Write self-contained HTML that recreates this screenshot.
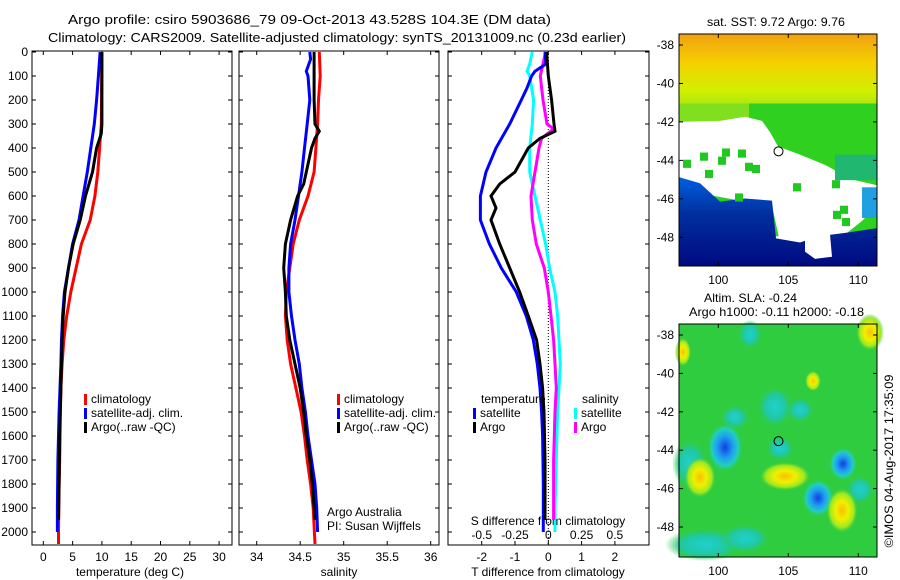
<!DOCTYPE html>
<html><head><meta charset="utf-8"><style>
body{margin:0;background:#fff;}
svg{display:block;font-family:"Liberation Sans",sans-serif;font-size:12px;}
</style></head><body>
<svg id="c" width="900" height="580" viewBox="0 0 900 580">
<defs>
<linearGradient id="sstTop" x1="0" y1="0" x2="0" y2="1">
<stop offset="0" stop-color="#f0a010"/><stop offset="0.35" stop-color="#f5d000"/><stop offset="0.7" stop-color="#d0f000"/><stop offset="1" stop-color="#90e020"/></linearGradient>
<linearGradient id="sstBlue" x1="0" y1="0" x2="0" y2="1">
<stop offset="0" stop-color="#0060e0"/><stop offset="0.4" stop-color="#0030a0"/><stop offset="1" stop-color="#000a80"/></linearGradient>
<radialGradient id="bBlue"><stop offset="0" stop-color="#1040e0"/><stop offset="0.45" stop-color="#20a0f0"/><stop offset="0.75" stop-color="#20d0c0"/><stop offset="1" stop-color="#30cc40" stop-opacity="0"/></radialGradient>
<radialGradient id="bYel"><stop offset="0" stop-color="#f8c000"/><stop offset="0.4" stop-color="#f0f000"/><stop offset="0.75" stop-color="#a0e820"/><stop offset="1" stop-color="#30cc40" stop-opacity="0"/></radialGradient>
<radialGradient id="bCyan"><stop offset="0" stop-color="#20d0d0"/><stop offset="0.6" stop-color="#20c8a0"/><stop offset="1" stop-color="#30cc40" stop-opacity="0"/></radialGradient>
</defs>
<text x="68" y="24" textLength="483" lengthAdjust="spacingAndGlyphs" font-size="13">Argo profile: csiro 5903686_79 09-Oct-2013 43.528S 104.3E (DM data)</text>
<text x="48" y="42" textLength="578" lengthAdjust="spacingAndGlyphs" font-size="13">Climatology: CARS2009. Satellite-adjusted climatology: synTS_20131009.nc (0.23d earlier)</text>
<g id="g"></g>
</svg>
<script>
const tDepth=[0,300,400,500,600,700,800,900,1000,1100,1200,1300,1400,1500,1700,1800,2000,2050];
const tClim=[10,9.9,9.6,9.3,8.8,8.0,6.5,5.6,4.7,4.0,3.5,3.2,3.0,2.9,2.8,2.7,2.6,2.6];
const tSatDepth=[0,100,200,300,400,500,600,700,800,900,1000,1100,1200,1300,1500,1700,1900,2000];
const tSat=[9.7,9.4,9.1,8.7,8.1,7.5,6.8,6.1,5.0,4.3,3.6,3.3,3.1,3.0,2.7,2.5,2.4,2.4];
const tArgoDepth=[0,300,340,400,500,600,700,800,900,1000,1100,1200,1300,1400,1600,1800,1950];
const tArgo=[10,10,9.9,9.1,8.4,7.2,6.3,5.1,4.3,3.7,3.4,3.2,3.1,3.0,2.8,2.7,2.6];

const sClimDepth=[0,100,200,300,400,500,600,700,800,900,1000,1100,1200,1300,1400,1500,1600,1700,1800,1900,2050];
const sClim=[34.72,34.73,34.71,34.70,34.68,34.66,34.59,34.49,34.42,34.38,34.34,34.33,34.35,34.39,34.45,34.51,34.55,34.58,34.62,34.65,34.67];
const sSatDepth=[0,30,80,100,200,300,400,500,600,700,800,900,1000,1100,1200,1300,1400,1500,1600,1700,1800,1900,2000];
const sSat=[34.61,34.62,34.57,34.59,34.61,34.58,34.55,34.52,34.48,34.44,34.39,34.37,34.37,34.40,34.44,34.49,34.52,34.56,34.59,34.63,34.67,34.69,34.70];
const sArgoDepth=[0,200,300,330,360,400,500,550,600,700,800,900,1000,1100,1200,1300,1400,1500,1600,1700,1800,1950];
const sArgo=[34.66,34.66,34.67,34.72,34.67,34.63,34.57,34.54,34.47,34.39,34.33,34.31,34.33,34.34,34.38,34.44,34.50,34.54,34.57,34.61,34.64,34.67];

const dtSatDepth=[0,50,80,100,150,200,300,400,500,600,700,800,900,1000,1100,1200,1300,1400,1500,1600,1800,2000];
const dtSat=[-0.1,-0.07,-0.4,-0.5,-0.64,-0.81,-1.16,-1.57,-1.87,-2.04,-2.04,-1.77,-1.41,-0.96,-0.66,-0.45,-0.33,-0.25,-0.2,-0.17,-0.15,-0.15];
const dtArgoDepth=[0,100,200,300,330,360,400,500,550,600,650,700,800,900,1000,1100,1200,1300,1400,1500,1700,1950];
const dtArgo=[-0.05,0,0.1,0.17,0.2,-0.25,-0.6,-1.0,-1.46,-1.72,-1.57,-1.72,-1.46,-1.16,-0.86,-0.6,-0.35,-0.25,-0.17,-0.13,-0.1,-0.1];
const dsSatDepth=[0,50,80,100,200,300,400,500,550,600,700,800,900,1000,1100,1200,1300,1400,1500,1700,1900,2000];
const dsSat=[-0.12,-0.14,-0.16,-0.14,-0.11,-0.12,-0.14,-0.14,-0.12,-0.1,-0.06,-0.02,0.01,0.05,0.07,0.08,0.09,0.08,0.07,0.06,0.05,0.05];
const dsArgoDepth=[0,100,200,300,320,360,400,500,600,700,800,900,1000,1100,1200,1300,1400,1500,1700,1950];
const dsArgo=[-0.02,-0.06,-0.04,-0.01,0.04,-0.05,-0.07,-0.1,-0.13,-0.12,-0.09,-0.03,0,0.02,0.04,0.05,0.06,0.05,0.04,0.04];

const depthTicks=[0,100,200,300,400,500,600,700,800,900,1000,1100,1200,1300,1400,1500,1600,1700,1800,1900,2000];
const tTicks=[0,5,10,15,20,25,30];
const sTicks=[34,34.5,35,35.5,36];
const sTickLabels=["34","34.5","35","35.5","36"];
const dtTicks=[-2,-1,0,1,2];
const dsTicks=[-0.5,-0.25,0,0.25,0.5];
const dsTickLabels=["-0.5","-0.25","0","0.25","0.5"];
const latTicks=[-38,-40,-42,-44,-46,-48];
const lonTicks=[100,105,110];

const NS="http://www.w3.org/2000/svg";
const G=document.getElementById('g');
function el(tag,at,txt,parent){const e=document.createElementNS(NS,tag);for(const k in at)e.setAttribute(k,at[k]);if(txt!==undefined)e.textContent=txt;(parent||G).appendChild(e);return e;}

const yD=d=>52+d*0.24;
const xT=t=>43.3+t*5.86;
const xS=s=>256.7+(s-34)*87;
const xDT=t=>548.3+t*33.3;
const xDS=s=>xDT(s*4);

const panels=[[32,232],[239,439],[448,649]];
const PT=51,PB=545;
panels.forEach((p,i)=>{
  const r=el('rect',{x:p[0],y:PT,width:p[1]-p[0],height:PB-PT,fill:'none',stroke:'#000','stroke-width':1});
  
  
  depthTicks.forEach(d=>{
    el('line',{x1:p[0],x2:p[0]+4,y1:yD(d),y2:yD(d),stroke:'#000'});
    el('line',{x1:p[1]-4,x2:p[1],y1:yD(d),y2:yD(d),stroke:'#000'});
  });
});
depthTicks.forEach(d=>{
  const t=el('text',{x:28,y:yD(d)+4,'text-anchor':'end'},String(d));
  
  
});
function xticks(vals,labels,fx,y){
  vals.forEach((v,i)=>{const x=fx(v);
    el('line',{x1:x,x2:x,y1:PB-4,y2:PB,stroke:'#000'});
    el('line',{x1:x,x2:x,y1:PT,y2:PT+4,stroke:'#000'});
    const t=el('text',{x:x,y:y,'text-anchor':'middle'},labels[i]);
    
    
  });
}
xticks(tTicks,tTicks.map(String),xT,561);
xticks(sTicks,sTickLabels,xS,561);
xticks(dtTicks,dtTicks.map(String),xDT,561);
dsTicks.forEach((v,i)=>{const t=el('text',{x:xDS(v),y:539,'text-anchor':'middle'},dsTickLabels[i]);
  
  });
[[130,'temperature (deg C)','temperature-axis-title'],[339,'salinity','salinity-axis-title'],[548,'T difference from climatology','t-diff-axis-title']].forEach(a=>{
  const t=el('text',{x:a[0],y:576,'text-anchor':'middle'},a[1]);
  
  
});
{const t=el('text',{x:548,y:525,'text-anchor':'middle'},'S difference from climatology');

}
{const l=el('line',{x1:xDT(0),x2:xDT(0),y1:PT,y2:PB,stroke:'#000','stroke-dasharray':'1,2'});

}

function series(vals,depths,fx,color,name){
  const pts=vals.map((v,i)=>fx(v).toFixed(1)+','+yD(depths[i]).toFixed(1)).join(' ');
  const pl=el('polyline',{points:pts,fill:'none',stroke:color,'stroke-width':3,'stroke-linejoin':'miter'});
  
  
}
series(tClim,tDepth,xT,'#ff0000','temp-climatology-line');
series(tSat,tSatDepth,xT,'#0000ff','temp-satellite-line');
series(tArgo,tArgoDepth,xT,'#000000','temp-argo-line');
series(sClim,sClimDepth,xS,'#ff0000','sal-climatology-line');
series(sSat,sSatDepth,xS,'#0000ff','sal-satellite-line');
series(sArgo,sArgoDepth,xS,'#000000','sal-argo-line');
series(dsSat,dsSatDepth,xDS,'#00ffff','sdiff-satellite-line');
series(dsArgo,dsArgoDepth,xDS,'#ff00ff','sdiff-argo-line');
series(dtSat,dtSatDepth,xDT,'#0000ff','tdiff-satellite-line');
series(dtArgo,dtArgoDepth,xDT,'#000000','tdiff-argo-line');

function legend(x,y,color,label){
  el('rect',{x:x,y:y-9,width:3,height:11,fill:color});
  const t=el('text',{x:x+7,y:y},label);
  
  
}
[['#ff0000','climatology'],['#0000ff','satellite-adj. clim.'],['#000000','Argo(..raw -QC)']].forEach((a,i)=>legend(84,403+i*14,a[0],a[1]));
[['#ff0000','climatology'],['#0000ff','satellite-adj. clim.'],['#000000','Argo(..raw -QC)']].forEach((a,i)=>legend(337,403+i*14,a[0],a[1]));
{let t=el('text',{x:481,y:403},'temperature');
t=el('text',{x:582,y:403},'salinity');}
legend(473,417,'#0000ff','satellite');legend(473,431,'#000000','Argo');
legend(574,417,'#00ffff','satellite');legend(574,431,'#ff00ff','Argo');
{let t=el('text',{x:327,y:516},'Argo Australia');
t=el('text',{x:327,y:530},'PI: Susan Wijffels');}

// maps
const MX0=679,MX1=877;
const yLat1=l=>45+(-38-l)*19.23;
const yLat2=l=>335+(-38-l)*19.2;
const xLon=l=>718.3+(l-100)*14;
function mapFrame(y0,y1,fy,name){
  const r=el('rect',{x:MX0,y:y0,width:MX1-MX0,height:y1-y0,fill:'none',stroke:'#000'});
  
  
  latTicks.forEach(l=>{const y=fy(l);
    el('line',{x1:MX0,x2:MX0+4,y1:y,y2:y,stroke:'#000'});el('line',{x1:MX1-4,x2:MX1,y1:y,y2:y,stroke:'#000'});
    const t=el('text',{x:674,y:y+4,'text-anchor':'end'},String(l));
    });
  lonTicks.forEach(l=>{const x=xLon(l);
    el('line',{x1:x,x2:x,y1:y1-4,y2:y1,stroke:'#000'});el('line',{x1:x,x2:x,y1:y0,y2:y0+4,stroke:'#000'});
    const t=el('text',{x:x,y:y1+18,'text-anchor':'middle'},String(l));
    });
}
// SST map
const sst=el('g',{transform:'translate(0,34) scale(1,1.022) translate(0,-32)'});


el('rect',{x:MX0,y:32,width:198,height:80,fill:'url(#sstTop)'},undefined,sst);
el('rect',{x:MX0,y:100,width:198,height:130,fill:'#30d020'},undefined,sst);
el('rect',{x:MX0,y:100,width:70,height:20,fill:'#80e020'},undefined,sst);
el('polygon',{points:'679,118 720,117 745,113 762,117 770,128 778,142 800,150 825,160 840,168 855,175 877,180 877,200 862,215 840,232 820,242 800,245 780,236 772,200 740,195 700,188 679,175',fill:'#fff'},undefined,sst);
el('polygon',{points:'679,172 700,178 720,196 745,193 772,195 776,232 800,236 818,230 850,226 877,222 877,259 679,259',fill:'url(#sstBlue)'},undefined,sst);
el('polygon',{points:'805,230 830,228 832,250 815,252 805,245',fill:'#fff'},undefined,sst);
[[683,155],[700,148],[722,144],[718,152],[738,145],[705,165],[745,158],[752,160],[793,178],[833,205],[842,212],[832,175],[840,200],[735,188]].forEach(p=>el('rect',{x:p[0],y:p[1],width:8,height:8,fill:'#20c820'},undefined,sst));
el('rect',{x:835,y:150,width:42,height:25,fill:'#20b870'},undefined,sst);
el('rect',{x:862,y:182,width:15,height:30,fill:'#20a0e0'},undefined,sst);
el('circle',{cx:xLon(104.3),cy:yLat1(-43.53),r:4.5,fill:'none',stroke:'#000'});
mapFrame(34,266,yLat1,'sst-map-frame');
{let t=el('text',{x:707,y:26,textLength:138,lengthAdjust:'spacingAndGlyphs'},'sat. SST: 9.72 Argo: 9.76');}
// SLA map
const sla=el('g',{transform:'translate(0,324) scale(1,1.036) translate(0,-315)'});


el('rect',{x:MX0,y:315,width:198,height:225,fill:'#30cc40'},undefined,sla);
[[750,325,12,14,'bCyan'],[735,405,14,12,'bCyan'],[800,398,14,12,'bCyan'],[690,450,18,24,'bCyan'],[705,528,40,16,'bCyan'],[745,522,25,14,'bCyan'],[780,435,14,12,'bCyan'],[860,475,14,14,'bCyan'],[775,395,18,20,'bCyan'],
 [725,434,18,24,'bBlue'],[843,450,14,16,'bBlue'],[818,483,16,18,'bBlue'],
 [700,463,16,20,'bYel'],[785,462,26,14,'bYel'],[842,495,16,22,'bYel'],[870,323,14,18,'bYel'],[813,370,8,10,'bYel'],[683,342,8,14,'bYel']].forEach(b=>
  el('ellipse',{cx:b[0],cy:b[1],rx:b[2],ry:b[3],fill:'url(#'+b[4]+')'},undefined,sla));
el('circle',{cx:xLon(104.3),cy:yLat2(-43.53),r:4.5,fill:'none',stroke:'#000'});
mapFrame(324,557,yLat2,'sla-map-frame');
{let t=el('text',{x:704,y:302,textLength:93,lengthAdjust:'spacingAndGlyphs'},'Altim. SLA: -0.24');
t=el('text',{x:689,y:316,textLength:175,lengthAdjust:'spacingAndGlyphs'},'Argo h1000: -0.11 h2000: -0.18');
t=el('text',{x:0,y:0,transform:'translate(893,461) rotate(-90)','text-anchor':'middle',textLength:173,lengthAdjust:'spacingAndGlyphs'},'\u00A9IMOS 04-Aug-2017 17:35:09');}
</script>
</body></html>
